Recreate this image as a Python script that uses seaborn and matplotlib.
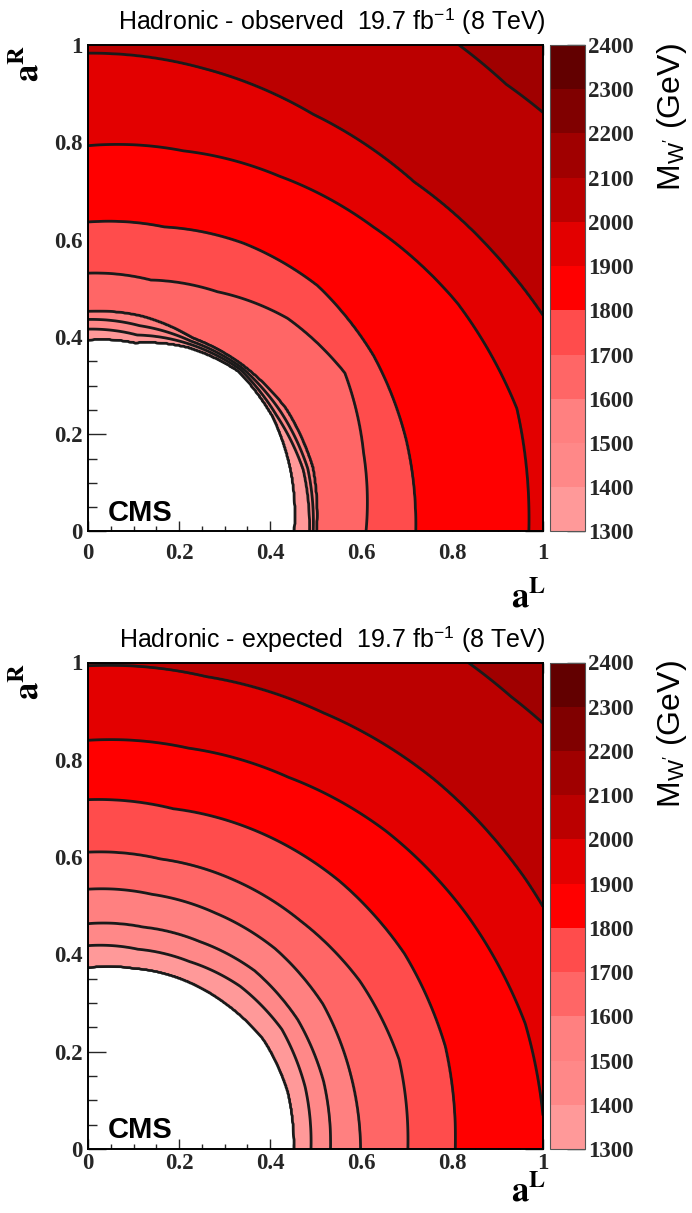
import numpy as np
import matplotlib
matplotlib.use("Agg")
import matplotlib.pyplot as plt
import seaborn as sns

# mass levels of the palette (GeV) and the colour of each band
levels = [1300, 1400, 1500, 1600, 1700, 1800, 1900, 2000, 2100, 2200, 2300, 2400]
band_colors = ['#ff9999', '#ff8888', '#ff8080', '#ff6666', '#ff4c4c', '#ff0000',
               '#e30000', '#bb0000', '#a00000', '#800000', '#620000']

# contours: distance sqrt(aL^2 + aR^2) where each
# level (rows: 1300 ... 2300) crosses the ray at the given angle from the aL axis
angles_deg = [0, 15, 30, 45, 60, 75, 90]

radii_observed = [
    [0.454, 0.463, 0.470, 0.467, 0.438, 0.402, 0.394],   # 1300
    [0.487, 0.490, 0.478, 0.472, 0.445, 0.418, 0.416],   # 1400
    [0.495, 0.500, 0.490, 0.477, 0.452, 0.438, 0.436],   # 1500
    [0.502, 0.511, 0.503, 0.482, 0.459, 0.458, 0.452],   # 1600
    [0.611, 0.627, 0.652, 0.620, 0.569, 0.535, 0.531],   # 1700
    [0.720, 0.724, 0.724, 0.714, 0.684, 0.648, 0.636],   # 1800
    [0.969, 0.976, 0.938, 0.886, 0.843, 0.810, 0.793],   # 1900
    [1.180, 1.130, 1.070, 1.015, 0.990, 0.985, 0.983],   # 2000
    [1.500, 1.440, 1.370, 1.300, 1.275, 1.265, 1.265],   # 2100
    [1.550, 1.550, 1.550, 1.550, 1.550, 1.550, 1.550],   # 2200
    [1.650, 1.650, 1.650, 1.650, 1.650, 1.650, 1.650],   # 2300
]

radii_expected = [
    [0.453, 0.455, 0.447, 0.425, 0.405, 0.385, 0.373],   # 1300
    [0.490, 0.494, 0.492, 0.473, 0.445, 0.425, 0.418],   # 1400
    [0.533, 0.536, 0.532, 0.518, 0.492, 0.472, 0.463],   # 1500
    [0.599, 0.597, 0.596, 0.582, 0.560, 0.542, 0.534],   # 1600
    [0.703, 0.708, 0.690, 0.662, 0.639, 0.617, 0.610],   # 1700
    [0.807, 0.813, 0.803, 0.780, 0.752, 0.724, 0.718],   # 1800
    [1.005, 0.995, 0.962, 0.925, 0.882, 0.853, 0.840],   # 1900
    [1.160, 1.140, 1.110, 1.075, 1.035, 1.005, 0.993],   # 2000
    [1.500, 1.440, 1.370, 1.315, 1.280, 1.270, 1.270],   # 2100
    [1.550, 1.550, 1.550, 1.550, 1.550, 1.550, 1.550],   # 2200
    [1.650, 1.650, 1.650, 1.650, 1.650, 1.650, 1.650],   # 2300
]

titles = ['Hadronic - observed  19.7 fb$^{\\mathregular{-1}}$ (8 TeV)',
          'Hadronic - expected  19.7 fb$^{\\mathregular{-1}}$ (8 TeV)']
tick_vals = [0, 0.2, 0.4, 0.6, 0.8, 1]
tick_labels = ['0', '0.2', '0.4', '0.6', '0.8', '1']


def mass_grid(radii, n=500):
    a = np.linspace(0, 1, n)
    X, Y = np.meshgrid(a, a)
    r = np.hypot(X, Y)
    th = np.degrees(np.arctan2(Y, X))
    R = np.array([np.interp(th, angles_deg, row) for row in radii])
    lev = np.array(levels[:len(radii)], dtype=float)
    M = lev[0] - 100.0 * (R[0] - r) / R[0]
    for i in range(len(radii) - 1):
        m = (r >= R[i]) & (r < R[i + 1])
        M[m] = lev[i] + 100.0 * (r[m] - R[i][m]) / (R[i + 1][m] - R[i][m])
    M[r >= R[-1]] = lev[len(radii) - 1]
    return X, Y, M


sns.set_theme(style='ticks')
plt.rcParams['font.family'] = ['Liberation Sans', 'DejaVu Sans']
plt.rcParams['mathtext.fontset'] = 'stix'

W, H = 692, 1213
fig = plt.figure(figsize=(W / 100, H / 100), dpi=100)

cmap = matplotlib.colors.ListedColormap(sns.color_palette(band_colors))
serif_bold = dict(family='Liberation Serif', fontweight='bold', fontsize=16.5)

panel_top = [45, 662.5]
xtick_pad = [8, 3]
xlabel_y = [-0.100, -0.052]
x0, x1 = 88, 543
for k, radii in enumerate([radii_observed, radii_expected]):
    top = panel_top[k]
    bot = top + 486.5
    ax = fig.add_axes([x0 / W, 1 - bot / H, (x1 - x0) / W, (bot - top) / H])
    X, Y, M = mass_grid(radii)
    cf = ax.contourf(X, Y, M, levels=levels, cmap=cmap)
    ax.contour(X, Y, M, levels=levels[:-1], colors='k', linewidths=2.0)
    ax.set_xlim(0, 1)
    ax.set_ylim(0, 1)

    ax.set_xticks(tick_vals, tick_labels, **serif_bold)
    ax.set_yticks(tick_vals, tick_labels, **serif_bold)
    ax.set_xticks(np.arange(0, 1.001, 0.05), minor=True)
    ax.set_yticks(np.arange(0, 1.001, 0.05), minor=True)
    ax.tick_params(axis='x', which='major', direction='in', top=True, length=7.5, width=1,
                   pad=xtick_pad[k])
    ax.tick_params(axis='x', which='minor', direction='in', top=True, length=3.8, width=1)
    ax.tick_params(axis='y', which='major', direction='in', right=True, length=13, width=1, pad=4)
    ax.tick_params(axis='y', which='minor', direction='in', right=True, length=6.5, width=1)
    for s in ax.spines.values():
        s.set_linewidth(1.4)
        s.set_color('black')

    ax.text(1.005, 1.016, titles[k], transform=ax.transAxes, ha='right', va='bottom',
            fontsize=18, color='black')
    ax.text(1.007, xlabel_y[k], r'$\mathbf{a^{L}}$', transform=ax.transAxes,
            ha='right', va='top', fontsize=25, color='black')
    ax.text(-0.132, 1.0, r'$\mathbf{a^{R}}$', transform=ax.transAxes, rotation=90,
            ha='center', va='top', fontsize=25, color='black')
    ax.text(0.043, 0.022, 'CMS', transform=ax.transAxes, ha='left', va='baseline',
            fontsize=21, fontweight='bold', color='black')

    cax = fig.add_axes([550 / W, 1 - bot / H, 35 / W, (bot - top) / H])
    cb = fig.colorbar(cf, cax=cax, ticks=levels)
    cb.outline.set_linewidth(0.8)
    cb.outline.set_edgecolor('#555555')
    cax.tick_params(direction='in', length=13, width=1, pad=2, right=True)
    cax.set_yticks(levels, [str(v) for v in levels], **serif_bold)
    cax.minorticks_off()
    fig.text(672 / W, 1 - (top - 2) / H, r'M$_{\mathregular{W^{\prime}}}$ (GeV)', rotation=90,
             ha='center', va='top', fontsize=23, color='black')

fig.savefig('out.png', dpi=100)
